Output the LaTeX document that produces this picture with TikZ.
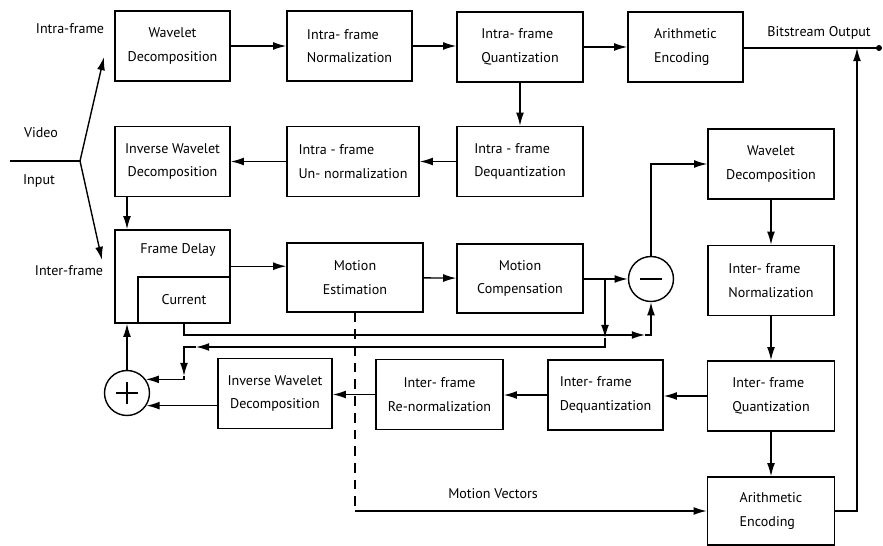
\documentclass[tikz,border=0pt]{standalone}
\usepackage{fontspec}
\setmainfont{PT Sans}
\usetikzlibrary{arrows.meta}

\begin{document}
\begin{tikzpicture}[x=0.02cm,y=-0.02cm,line width=0.8pt,
        >={Latex[length=7.5pt,width=4.5pt]},
        block/.style={draw, minimum height=1.4cm, inner sep=2pt,
            font=\fontsize{8}{13.5}\selectfont},
        sum/.style={draw, circle, minimum size=0.9cm, inner sep=0pt},
        lbl/.style={font=\fontsize{8}{10}\selectfont}]
        \useasboundingbox (0,0) rectangle (883,546);
        % The video input and its two branches
        \coordinate (inStart) at (10,161);
        \coordinate (fork) at (80,161);
        \coordinate (intraTip) at (104,57);
        \coordinate (interTip) at (102,260);
        \draw (inStart) -- (fork);
        \draw[->] (fork) -- (intraTip);
        \draw[->] (fork) -- (interTip);
        \node[lbl] (lblIntra) at (70,29) {Intra-frame};
        \node[lbl] (lblVideo) at (41,133) {Video};
        \node[lbl] (lblInput) at (39,181) {Input};
        \node[lbl] (lblInter) at (69,271) {Inter-frame};
        % Intra-frame coding path
        \node[block, minimum width=2.3cm, align=center] (wdA) at (172.5,46)
            {Wavelet\\Decomposition};
        \node[block, minimum width=2.5cm, align=left] (normA) at (349.5,46)
            {Intra- frame\\Normalization};
        \node[block, minimum width=2.52cm, align=left] (quantA) at (520,47)
            {Intra- frame\\Quantization};
        \node[block, minimum width=2.3cm, align=left] (encA) at (685.5,47)
            {Arithmetic\\Encoding};
        \node[block, minimum width=2.3cm, align=center] (iwdA) at (172.5,161.5)
            {Inverse Wavelet\\Decomposition};
        \node[block, minimum width=2.64cm, align=left] (unnormA) at (353,161.5)
            {Intra - frame\\Un- normalization};
        \node[block, minimum width=2.52cm, align=left] (dequantA) at (520,161.5)
            {Intra - frame\\Dequantization};
        \draw[->] (wdA) -- (normA);
        \draw[->] (normA.east) -- (normA.east -| quantA.west);
        \draw[->] (quantA) -- (encA);
        \draw[->] (quantA) -- (dequantA);
        \draw[->] (dequantA) -- (unnormA);
        \draw[->] (unnormA) -- (iwdA);
        % Bitstream output
        \coordinate (outDot) at (879,48);
        \coordinate (outTap) at (857,48);
        \draw (encA.east |- outDot) -- (outDot);
        \fill (outDot) circle (3);
        \node[lbl] (lblOut) at (819,33) {Bitstream Output};
        % Frame delay and motion blocks
        \node[draw, minimum width=2.3cm, minimum height=1.86cm] (fdelay) at (172.5,276.5) {};
        \node[draw, minimum width=1.84cm, minimum height=0.92cm, lbl] (current) at (184,300) {Current};
        \node[lbl] (fdText) at (178,250) {Frame Delay};
        \node[block, minimum width=2.72cm, minimum height=1.38cm, align=center] (motEst) at (355,277.5)
            {Motion\\Estimation};
        \node[block, minimum width=2.52cm, minimum height=1.38cm, align=center] (motComp) at (520,278.5)
            {Motion\\Compensation};
        \node[sum] (minus) at (651,279) {};
        \draw (minus.center) ++(-11,0) -- ++(22,0);
        \draw[->] (iwdA.south -| 127,0) -- (fdelay.north -| 127,0);
        \draw[->] (fdelay.10) -- (fdelay.10 -| motEst.west);
        \draw[->] (motEst) -- (motComp);
        \draw[->] (motComp.east |- minus.west) -- (minus.west);
        % Inter-frame coding path
        \node[block, minimum width=2.52cm, align=center] (wdB) at (771,164)
            {Wavelet\\Decomposition};
        \node[block, minimum width=2.52cm, align=left] (normB) at (771,280.5)
            {Inter- frame\\Normalization};
        \node[block, minimum width=2.54cm, align=left] (quantB) at (771,396)
            {Inter- frame\\Quantization};
        \node[block, minimum width=2.3cm, align=left] (dequantB) at (605.5,395)
            {Inter- frame\\Dequantization};
        \node[block, minimum width=2.54cm, align=center] (renormB) at (439.5,394.5)
            {Inter- frame\\Re-normalization};
        \node[block, minimum width=2.28cm, align=center] (iwdB) at (275,393.5)
            {Inverse Wavelet\\Decomposition};
        \node[block, minimum width=2.54cm, minimum height=1.36cm, align=left] (encB) at (771,511)
            {Arithmetic\\Encoding};
        \node[sum] (plus) at (127,393) {};
        \draw (plus.center) ++(-11,0) -- ++(22,0);
        \draw (plus.center) ++(0,-11) -- ++(0,22);
        \draw[->] (minus.north) |- (wdB.west);
        \draw[->] (wdB) -- (normB);
        \draw[->] (normB) -- (quantB);
        \draw[->] (quantB) -- (encB);
        \draw[->] (quantB.west) -- (quantB.west -| dequantB.east);
        \draw[->] (dequantB.west) -- (dequantB.west -| renormB.east);
        \draw[->] (renormB.west) -- (renormB.west -| iwdB.east);
        \draw[->] (iwdB.west |- plus.-33) -- (plus.-33);
        \draw[->] (plus.north) -- (plus.north |- fdelay.south);
        \draw[->] (encB.east) -| (outTap);
        % Current frame into the subtractor
        \coordinate (subIn) at (645,335);
        \draw[->] (current.south) |- (subIn);
        \draw[->] (subIn) -| (minus.south);
        % Prediction fed back to the adder
        \coordinate (mcTap) at (605,279);
        \coordinate (fbTip) at (605,338);
        \coordinate (fbLeft) at (196,347);
        \coordinate (fbDown) at (184,376);
        \draw[->] (mcTap) -- (fbTip);
        \draw[->] (fbTip) |- (fbLeft);
        \draw[->] (fbLeft) -| (fbDown);
        \draw[->] (fbDown) |- (plus.36);
        % Motion vectors to the coder
        \coordinate (mvCorner) at (355,511);
        \draw[dash pattern=on 5.5pt off 4pt] (motEst.south) -- (mvCorner);
        \draw[->] (mvCorner) -- (encB.west);
        \node[lbl] (lblMV) at (493,494) {Motion Vectors};
    \end{tikzpicture}
\end{document}
